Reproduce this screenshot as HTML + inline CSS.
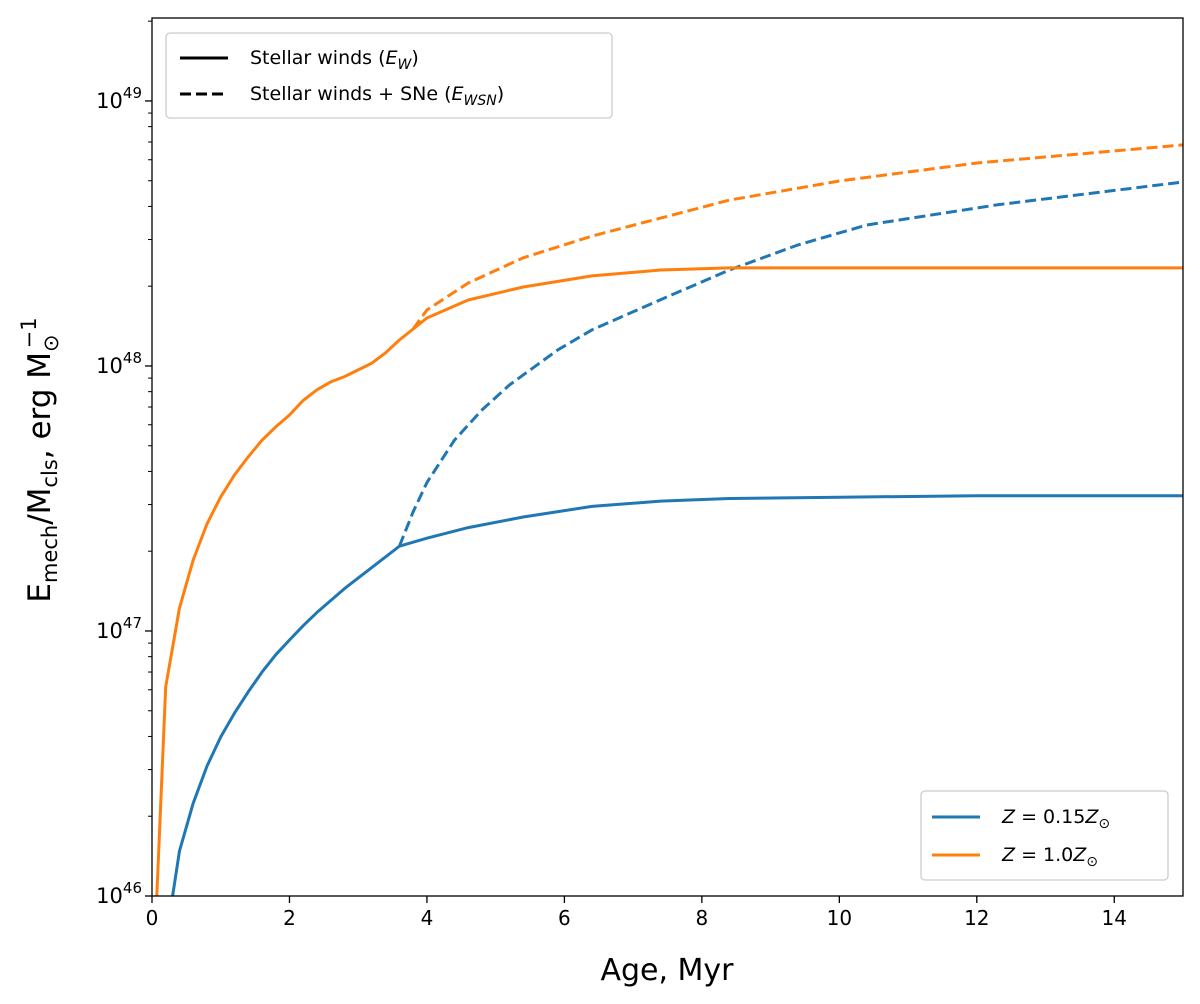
<!DOCTYPE html>
<html><head><meta charset="utf-8"><style>
html,body{margin:0;padding:0;background:#fff;}
svg{display:block;font-family:"DejaVu Sans","Liberation Sans",sans-serif;}
</style></head><body>
<svg id="chart" width="1200" height="1004" viewBox="0 0 1200 1004">
</svg>
<script>
const blueWindAge=[0.3,0.4,0.6,0.8,1.0,1.2,1.4,1.6,1.8,2.0,2.2,2.4,2.8,3.2,3.4,3.6,4.0,4.6,5.4,6.4,7.4,8.4,10,12,15];
const blueWindLog=[46.0,46.17,46.35,46.49,46.6,46.69,46.77,46.845,46.91,46.966,47.02,47.07,47.16,47.24,47.28,47.32,47.35,47.39,47.43,47.47,47.49,47.5,47.505,47.51,47.51];
const blueSNAge=[3.6,3.8,4.0,4.4,4.8,5.2,5.9,6.4,7.4,8.4,9.4,10.4,12.3,15];
const blueSNLog=[47.32,47.45,47.56,47.72,47.834,47.928,48.06,48.136,48.25,48.362,48.457,48.532,48.608,48.694];
const orWindAge=[0.07,0.2,0.4,0.6,0.8,1.0,1.2,1.4,1.6,1.8,2.0,2.2,2.4,2.6,2.8,3.0,3.2,3.4,3.6,4.0,4.6,5.4,6.4,7.4,8.4,15];
const orWindLog=[46.0,46.789,47.087,47.268,47.404,47.506,47.589,47.657,47.72,47.77,47.815,47.87,47.91,47.94,47.96,47.985,48.011,48.05,48.098,48.181,48.249,48.298,48.34,48.362,48.37,48.37];
const orSNAge=[3.8,4.0,4.6,5.4,6.4,7.4,8.4,10,12,15];
const orSNLog=[48.14,48.211,48.313,48.408,48.49,48.558,48.626,48.698,48.766,48.834];
const xTicks=[0,2,4,6,8,10,12,14];
const yDecades=[46,47,48,49];

const L=152,R=1183,T=18,B=896,X0=0,X1=15,Y0=46,Y1=49.313;
const sx=v=>L+(v-X0)/(X1-X0)*(R-L);
const sy=v=>B-(v-Y0)/(Y1-Y0)*(B-T);
const NS="http://www.w3.org/2000/svg";
const svg=document.getElementById('chart');
function mk(tag,attrs,parent){const e=document.createElementNS(NS,tag);for(const k in attrs)e.setAttribute(k,attrs[k]);(parent||svg).appendChild(e);return e;}
const defs=mk('defs',{});const cp=mk('clipPath',{id:'clip'},defs);mk('rect',{x:L,y:T,width:R-L,height:B-T},cp);
const plot=mk('g',{'clip-path':'url(#clip)'});
function series(ages,logs,color,dash,name){
  const d=ages.map((a,i)=>(i?'L':'M')+sx(a).toFixed(1)+','+sy(logs[i]).toFixed(1)).join(' ');
  const p=mk('path',{d:d,fill:'none',stroke:color,'stroke-width':3,'stroke-dasharray':dash||'none','stroke-linejoin':'round'},plot);
  
  
}
series(blueSNAge,blueSNLog,'#1f77b4','11,5','blue-sn-line');
series(orSNAge,orSNLog,'#ff7f0e','11,5','orange-sn-line');
series(blueWindAge,blueWindLog,'#1f77b4',null,'blue-wind-line');
series(orWindAge,orWindLog,'#ff7f0e',null,'orange-wind-line');
const fr=mk('rect',{x:L,y:T,width:R-L,height:B-T,fill:'none',stroke:'#000','stroke-width':1.3});


xTicks.forEach(t=>{
  mk('line',{x1:sx(t),x2:sx(t),y1:B,y2:B+7,stroke:'#000','stroke-width':1.3});
  const tx=mk('text',{x:sx(t),y:B+29,'text-anchor':'middle','font-size':20});tx.textContent=t;
  
  
});
yDecades.forEach(dd=>{
  mk('line',{x1:L-7,x2:L,y1:sy(dd),y2:sy(dd),stroke:'#000','stroke-width':1.3});
  const tx=mk('text',{x:L-10,y:sy(dd)+7,'text-anchor':'end','font-size':21});
  tx.textContent='10';
  const s=mk('tspan',{dy:-10,'font-size':15},tx);s.textContent=dd;
  
  
  for(let m=2;m<=9;m++){const v=dd+Math.log10(m);if(v<=Y1)mk('line',{x1:L-4,x2:L,y1:sy(v),y2:sy(v),stroke:'#000','stroke-width':1});}
});
</script>
<svg style="position:absolute;left:0;top:0" width="1200" height="1004">
<text x="667" y="980" text-anchor="middle" font-size="30" font-family="DejaVu Sans,sans-serif">Age, Myr</text>
<text transform="translate(50,460) rotate(-90)" text-anchor="middle" font-size="31" font-family="DejaVu Sans,sans-serif">E<tspan font-size="21" dy="7">mech</tspan><tspan dy="-7">/M</tspan><tspan font-size="21" dy="7">cls</tspan><tspan dy="-7">, erg M</tspan><tspan font-size="21" dy="8">⊙</tspan><tspan font-size="21" dx="-14" dy="-22">−1</tspan></text>
<g font-family="DejaVu Sans,sans-serif" font-size="19">
<rect x="166" y="33" width="446" height="85" rx="4" fill="#fff" stroke="#ccc" stroke-width="1.3"/>
<line x1="180" y1="58" x2="228" y2="58" stroke="#000" stroke-width="3"/>
<text x="250" y="64">Stellar winds (<tspan font-style="italic">E</tspan><tspan font-style="italic" font-size="14" dy="5">W</tspan><tspan dy="-5">)</tspan></text>
<line x1="180" y1="94" x2="228" y2="94" stroke="#000" stroke-width="3" stroke-dasharray="11,5"/>
<text x="250" y="100">Stellar winds + SNe (<tspan font-style="italic">E</tspan><tspan font-style="italic" font-size="14" dy="5">WSN</tspan><tspan dy="-5">)</tspan></text>
</g>
<g font-family="DejaVu Sans,sans-serif" font-size="19">
<rect x="921" y="791" width="247" height="89" rx="4" fill="#fff" stroke="#ccc" stroke-width="1.3"/>
<line x1="932" y1="817" x2="980" y2="817" stroke="#1f77b4" stroke-width="3"/>
<text x="1002" y="823" font-style="italic">Z<tspan font-style="normal"> = 0.15</tspan>Z<tspan font-size="14" dy="5">⊙</tspan></text>
<line x1="932" y1="855" x2="980" y2="855" stroke="#ff7f0e" stroke-width="3"/>
<text x="1002" y="861" font-style="italic">Z<tspan font-style="normal"> = 1.0</tspan>Z<tspan font-size="14" dy="5">⊙</tspan></text>
</g>
</svg>
</body></html>
